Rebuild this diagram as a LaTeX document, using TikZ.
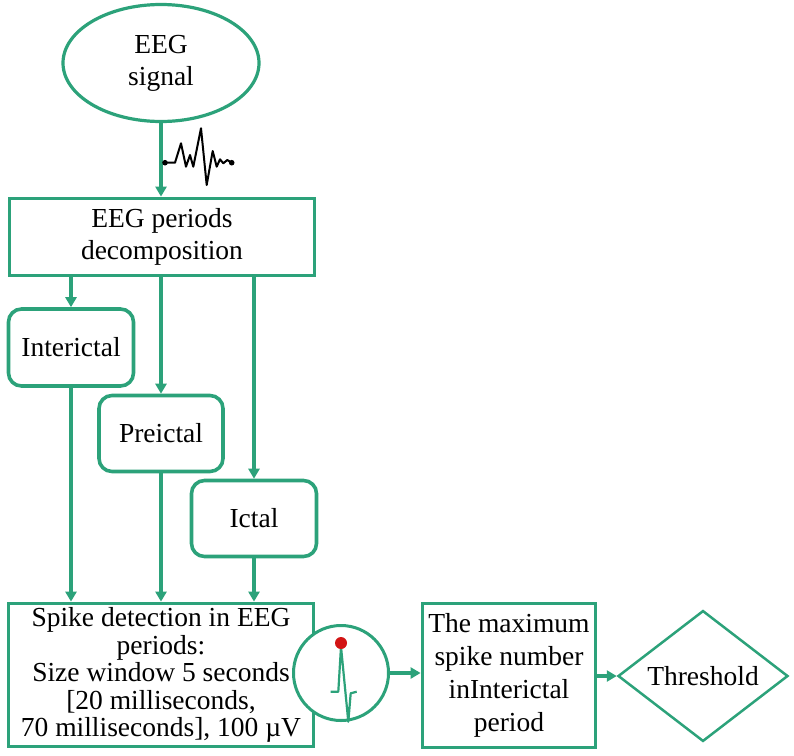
\documentclass[tikz,border=0pt]{standalone}
\usepackage{fontspec}
\setmainfont{Liberation Serif}
\usetikzlibrary{shapes.geometric,arrows.meta}
\definecolor{gr}{RGB}{44,162,122}
\definecolor{rd}{RGB}{210,20,20}
\tikzset{
  every node/.style={font=\fontsize{27.5}{32}\selectfont, text=black},
  box/.style={draw=gr, line width=3.8pt, rectangle, inner sep=0pt, align=center},
  rbox/.style={box, line width=3.6pt, rounded corners=13pt},
  con/.style={draw=gr, line width=3.2pt, -{Triangle[length=10pt,width=11pt]}},
}
\begin{document}
\begin{tikzpicture}[x=1pt,y=-1pt]
\useasboundingbox (0,0) rectangle (794,755);
\node[ellipse, draw=gr, line width=3.2pt, minimum width=196pt, minimum height=117pt, inner sep=0pt, align=center] (sig) at (161,63) {EEG\\signal};
\node[box, minimum width=305pt, minimum height=77pt] (dec) at (162,237) {EEG periods\\decomposition};
\node[rbox, minimum width=125pt, minimum height=77pt] (inter) at (71,347.5) {Interictal};
\node[rbox, minimum width=124pt, minimum height=76pt] (pre) at (161,433.5) {Preictal};
\node[rbox, minimum width=125pt, minimum height=76pt] (ict) at (254,518.5) {Ictal};
\node[box, minimum width=305pt, minimum height=143pt, font=\fontsize{27.5}{27.5}\selectfont] (spk) at (161,675) {Spike detection in EEG\\periods:\\Size window 5 seconds\\{[20 milliseconds,}\\70 milliseconds], 100 µV};
\node[circle, draw=gr, line width=3pt, fill=white, minimum size=95pt, inner sep=0pt] (circ) at (341,673) {};
\node[box, minimum width=173pt, minimum height=144pt, font=\fontsize{27.5}{33}\selectfont] (max) at (509,675.5) {The maximum\\spike number\\inInterictal\\period};
\node[diamond, draw=gr, line width=2.5pt, minimum width=170pt, minimum height=98pt, inner sep=0pt] (thr) at (703,676) {Threshold};
% connectors
\draw[con] (sig.south) -- (dec.north -| sig.south);
\draw[con] (dec.south -| inter.north) -- (inter.north);
\draw[con] (dec.south -| pre.north) -- (pre.north);
\draw[con] (dec.south -| ict.north) -- (ict.north);
\draw[con] (inter.south) -- (spk.north -| inter.south);
\draw[con] (pre.south) -- (spk.north -| pre.south);
\draw[con] (ict.south) -- (spk.north -| ict.south);
\draw[con] (circ.east) -- (max.west |- circ.east);
\draw[con] (max.east |- thr.west) -- (thr.west);
% EEG wave icon
\draw[black, line width=2pt, line join=round] (165,162.7) -- (175,162.7) -- (181,143.3) -- (186,166.7) -- (190,155) -- (193.3,166.7) -- (201,128.3) -- (206.7,185) -- (212.7,151) -- (216.7,166.7) -- (220,159.3) -- (223.3,163.3) -- (227.3,160) -- (231.7,162.7);
\fill[black] (165,162.7) circle (2.8pt);
\fill[black] (231.7,162.7) circle (2.8pt);
% spike icon
\draw[gr, line width=2.2pt, line join=round] (330.7,691.7) -- (338.3,691.7) -- (341,646.7) -- (348.3,721.7) -- (350.7,693.3) -- (356.7,691.7);
\fill[rd] (341,643) circle (6pt);
\end{tikzpicture}
\end{document}
